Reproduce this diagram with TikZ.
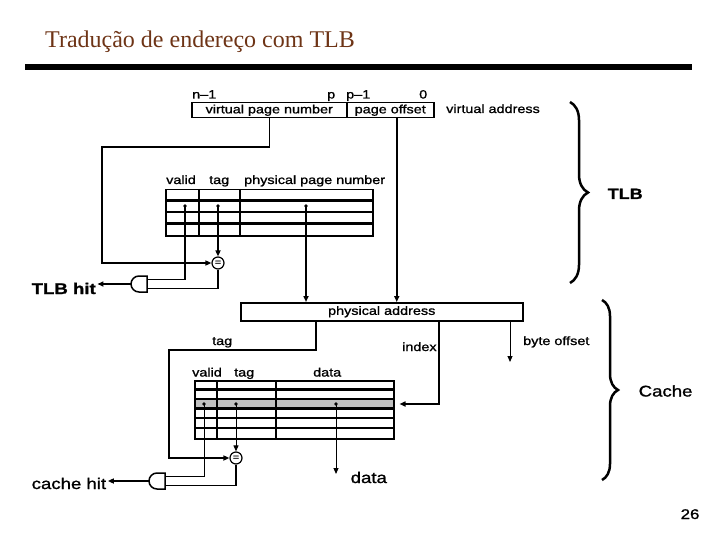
\documentclass[tikz,border=0pt]{standalone}
\usepackage{fontspec}
\setmainfont{Liberation Serif}
\newfontfamily\diagfont[FakeStretch=1.2,FakeBold=1.2]{Liberation Sans}
\usetikzlibrary{arrows.meta,decorations.pathreplacing,calc}
\definecolor{titlebrown}{RGB}{110,52,22}
\definecolor{rowgray}{RGB}{192,192,192}

\begin{document}
\begin{tikzpicture}[x=1pt,y=-1pt,font=\diagfont\fontsize{12}{14}\selectfont]
  \tikzstyle{wire}=[line width=1.5pt]
  \tikzstyle{thinwire}=[line width=1pt]
  \tikzstyle{tip}=[-{Triangle[length=6pt,width=5pt]}]
  \tikzstyle{lbl}=[inner sep=0pt,anchor=base west]
  \tikzstyle{big}=[inner sep=1.5pt,anchor=base west,font=\diagfont\fontsize{15.5}{18}\selectfont]
  \tikzstyle{field}=[draw,line width=1.5pt,inner sep=0pt,minimum height=15pt,anchor=north west]
  \tikzstyle{table}=[draw,line width=1.5pt,inner sep=0pt,anchor=north west]
  \tikzstyle{cmp}=[draw,circle,line width=1.2pt,minimum size=12pt,inner sep=0pt,font=\diagfont\fontsize{9}{9}\selectfont]
  \tikzstyle{brace}=[decorate,line width=2.5pt]
  \tikzset{andgate/.pic={
    \draw[line width=1.5pt] (0,-8) -- (-8,-8) arc (270:90:8) -- (0,8) -- cycle;
    \coordinate (-in1) at (0,-4.5);
    \coordinate (-in2) at (0,4.5);
    \coordinate (-out) at (-16,0);}}
  \useasboundingbox (0,0) rectangle (720,540);
  % Title
  \node[lbl,font=\rmfamily\fontsize{24}{28}\selectfont,text=titlebrown] (title) at (45,48) {Tradução de endereço com TLB};
  \fill (25,64) rectangle (692,70);
  % Virtual address
  \node[field,minimum width=155pt] (vpn) at (191,102) {virtual page number};
  \node[field,minimum width=87pt] (offs) at (346,102) {page offset};
  \node[lbl] (bitn) at (192,98.5) {n–1};
  \node[lbl] (bitp) at (327,98.5) {p};
  \node[lbl] (bitp1) at (346,98.5) {p–1};
  \node[lbl] (bit0) at (419,98.5) {0};
  \node[lbl] (va) at (446,113) {virtual address};
  % TLB
  \node[table,minimum width=207pt,minimum height=46pt] (tlb) at (165,189) {};
  \foreach \y in {200.5,212,223.5} \draw[line width=2.5pt] (165,\y) -- (372,\y);
  \foreach \x in {198.5,240} \draw[line width=2pt] (\x,189) -- (\x,235);
  \node[lbl] (tlbvalid) at (166,184) {valid};
  \node[lbl] (tlbtag) at (209,184) {tag};
  \node[lbl] (tlbppn) at (244,184) {physical page number};
  \coordinate (tvalid) at (185,206);
  \coordinate (ttag) at (218,206);
  \coordinate (tppn) at (306,206);
  \node[cmp] (cmp1) at (218,263) {=};
  \pic (g1) at (147,284) {andgate};
  \node[big,font=\diagfont\bfseries\fontsize{15.5}{18}\selectfont] (tlbhit) at (30,294) {TLB hit};
  % Physical address
  \node[field,minimum width=282pt,minimum height=18pt] (pa) at (240,302) {physical address};
  \node[lbl] (tagl) at (212,345) {tag};
  \node[lbl] (indexl) at (402,351) {index};
  \node[lbl] (bytel) at (523,345) {byte offset};
  \coordinate (boend) at (510,362);
  % Cache
  \fill[rowgray] (194,399) rectangle (393,408.5);
  \node[table,minimum width=199pt,minimum height=58pt] (cache) at (194,380) {};
  \foreach \y in {389.5,399,408.5,418,428} \draw[line width=2.5pt] (194,\y) -- (393,\y);
  \foreach \x in {217,276} \draw[line width=2.5pt] (\x,380) -- (\x,438);
  \node[lbl] (cvalidl) at (192,376.5) {valid};
  \node[lbl] (ctagl) at (234,376.5) {tag};
  \node[lbl] (cdatal) at (313,376.5) {data};
  \coordinate (cvalid) at (204,404);
  \coordinate (ctag) at (236,404);
  \coordinate (cdata) at (336,404);
  \coordinate (dataend) at (336,474);
  \node[cmp] (cmp2) at (236,458) {=};
  \pic (g2) at (165,481) {andgate};
  \node[big] (cachehit) at (30,489) {cache hit};
  \node[big] (dataout) at (349,483) {data};
  % Braces
  \draw[brace,decoration={brace,amplitude=18pt}] (570,102) -- (570,283);
  \node[big,font=\diagfont\bfseries\fontsize{15}{18}\selectfont] (tlbname) at (606,199) {TLB};
  \draw[brace,decoration={brace,amplitude=16pt}] (602,300) -- (602,480);
  \node[big] (cachename) at (637,396.5) {Cache};
  \node[big,font=\diagfont\fontsize{14}{16}\selectfont] (pagenum) at (679,519) {26};
  % Connectors
  \coordinate (vpnbend) at (102,147);
  \draw[wire,tip] (vpn.south) |- (vpnbend) |- (cmp1.west);
  \draw[wire,tip] (ttag) -- (cmp1.north);
  \draw[wire] (tvalid) |- (g1-in1);
  \draw[wire] (cmp1.south) |- (g1-in2);
  \draw[wire,tip] (g1-out) -- (g1-out -| tlbhit.east);
  \draw[wire,tip] (tppn) -- (tppn |- pa.north);
  \draw[wire,tip] ([xshift=6.5pt]offs.south) -- ([xshift=6.5pt]offs.south |- pa.north);
  \coordinate (tagbend) at (169,350);
  \draw[wire,tip] ([xshift=76pt]pa.south west) |- (tagbend) |- (cmp2.west);
  \draw[wire,tip,shorten >=5pt] ([xshift=199pt]pa.south west) |- (cache.east |- cdata);
  \draw[thinwire,tip] (pa.south -| boend) -- (boend);
  \draw[thinwire] (cvalid) |- (g2-in1);
  \draw[thinwire,tip] (ctag) -- (cmp2.north);
  \draw[wire] (cmp2.south) |- (g2-in2);
  \draw[wire,tip] (g2-out) -- (g2-out -| cachehit.east);
  \draw[thinwire,tip] (cdata) -- (dataend);
  \foreach \d in {tvalid,ttag,tppn,cvalid,ctag,cdata} \fill (\d) circle (1.8);
\end{tikzpicture}
\end{document}
